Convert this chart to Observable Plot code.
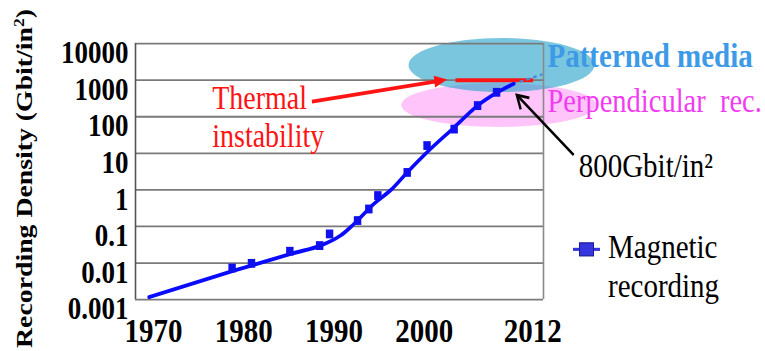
<!DOCTYPE html>
<html>
<head>
<meta charset="utf-8">
<script src="https://cdn.jsdelivr.net/npm/d3@7"></script>
<script src="https://cdn.jsdelivr.net/npm/@observablehq/plot@0.6"></script>
<style>
  body { margin: 0; background: #fff; }
  #chart { width: 765px; height: 351px; overflow: hidden; }
  /* the figure uses a taller-than-square aspect: drawn at 765×297, shown at 765×351 */
  #chart svg { overflow: visible; font-family: "Liberation Serif", serif; transform-origin: 0 0; }
  #chart text { font-family: "Liberation Serif", serif; }
  g[aria-label="x-axis tick label"], g[aria-label="y-axis tick label"] { font-weight: bold; }
</style>
</head>
<body>
<div id="chart"></div>
<script>
// Axis ticks
const yearTicks = [1970, 1980, 1990, 2000, 2012];
const densityTicks = [0.001, 0.01, 0.1, 1, 10, 100, 1000, 10000];
const densityTickLabels = ["0.001", "0.01", "0.1", "1", "10", "100", "1000", "10000"];

// Magnetic recording: reported areal densities (Gbit/in²)
const recordYears   = [1978.7, 1980.85, 1985.1, 1988.4, 1989.5, 1992.6, 1993.85, 1994.85, 1998.1, 2000.3, 2003.3, 2005.9, 2008.0];
const recordDensity = [0.0073, 0.0098, 0.021, 0.030, 0.0625, 0.145, 0.30, 0.70, 3.0, 16.3, 46, 202, 466];

// Trend curve through the record, ending at 800 Gbit/in²
const trendYears   = [1969.5, 1978.9, 1985.2, 1988.5, 1990.7, 1992.2, 1994.4, 1996.3, 1998.1, 2000.5, 2003.3, 2005.9, 2008.1, 2009.9];
const trendDensity = [0.00116, 0.0062, 0.0177, 0.030, 0.056, 0.117, 0.41, 1.0, 3.0, 11.9, 51, 202, 466, 800];

// Projected continuation beyond the last point
const projectionYears   = [2009.9, 2013.0];
const projectionDensity = [800, 1420];

// Thermal stability limit of conventional media
const limitYears = [2003.5, 2012.1];
const limitDensity = 1000;

// Technology regions (centre, half-width in years, half-height in decades)
const regionNames       = ["Perpendicular rec.", "Patterned media"];
const regionYears       = [2008.3, 2008.6];
const regionDensity     = [202, 2500];
const regionHalfYears   = [10.8, 10.3];
const regionHalfDecades = [0.60, 0.74];
const regionFills       = ["#ffc4fa", "#2aa3cc"];
const regionOpacity     = [1, 0.62];
const regionLabelDensity = [132, 2250];
const regionLabelColors = ["#f23cf0", "#3d9ae6"];
const regionLabelWeight = ["normal", "bold"];
const regionLabelSize   = [28.5, 29];

// Annotations
const thermalLabel = {text: "Thermal\ninstability", year: 1976.5, density: 900};
const thermalArrow = {fromYear: 1987.6, fromDensity: 248, toYear: 2002.6, toDensity: 1000};
const milestoneLabel = {text: "800Gbit/in²", year: 2017.1, density: 2.21};
const milestoneArrow = {fromYear: 2016.6, fromDensity: 8.66, toYear: 2010.3, toDensity: 378};

const record = recordYears.map((year, i) => ({year, density: recordDensity[i]}));
const trend = trendYears.map((year, i) => ({year, density: trendDensity[i]}));
const projection = projectionYears.map((year, i) => ({year, density: projectionDensity[i]}));
const regions = regionNames.map((name, i) => ({
  name, year: regionYears[i], density: regionDensity[i],
  halfYears: regionHalfYears[i], halfDecades: regionHalfDecades[i],
  fill: regionFills[i], opacity: regionOpacity[i],
  labelDensity: regionLabelDensity[i], color: regionLabelColors[i],
  weight: regionLabelWeight[i], size: regionLabelSize[i]
}));

const serif = "Liberation Serif, serif";
const width = 765, height = 297, shownHeight = 351;
const margin = {left: 135, right: 222, top: 36.4, bottom: 44};

// Ellipses drawn in data space through the plot's own scales
function regionEllipses(data) {
  return (index, scales) => {
    const {x, y} = scales;
    const g = d3.create("svg:g").attr("aria-label", "regions");
    for (const r of data) {
      const cx = x(r.year), cy = y(r.density);
      const rx = x(r.year + r.halfYears) - cx;
      const ry = y(r.density / Math.pow(10, r.halfDecades)) - cy;
      g.append("ellipse")
        .attr("cx", cx).attr("cy", cy).attr("rx", rx).attr("ry", ry)
        .attr("fill", r.fill).attr("fill-opacity", r.opacity);
    }
    return g.node();
  };
}

// Annotation arrow with a filled or open head
function annotationArrow(a, {stroke, strokeWidth, headLength, headWidth, filled}) {
  return (index, scales) => {
    const {x, y} = scales;
    const x1 = x(a.fromYear), y1 = y(a.fromDensity), x2 = x(a.toYear), y2 = y(a.toDensity);
    const t = Math.atan2(y2 - y1, x2 - x1);
    const ux = Math.cos(t), uy = Math.sin(t);
    const bx = x2 - ux * headLength, by = y2 - uy * headLength;
    const px = -uy * headWidth / 2, py = ux * headWidth / 2;
    const g = d3.create("svg:g").attr("aria-label", "arrow");
    g.append("line")
      .attr("x1", x1).attr("y1", y1)
      .attr("x2", filled ? bx + ux * 2 : x2).attr("y2", filled ? by + uy * 2 : y2)
      .attr("stroke", stroke).attr("stroke-width", strokeWidth);
    if (filled) {
      g.append("polygon")
        .attr("points", `${x2},${y2} ${bx + px},${by + py} ${bx - px},${by - py}`)
        .attr("fill", stroke);
    } else {
      g.append("path")
        .attr("d", `M${bx + px},${by + py}L${x2},${y2}L${bx - px},${by - py}`)
        .attr("fill", "none").attr("stroke", stroke).attr("stroke-width", strokeWidth)
        .attr("stroke-linejoin", "miter");
    }
    return g.node();
  };
}

const chart = Plot.plot({
  width, height,
  marginLeft: margin.left, marginRight: margin.right,
  marginTop: margin.top, marginBottom: margin.bottom,
  style: {fontFamily: serif, background: "white", color: "#000", overflow: "visible"},
  x: {domain: [1968, 2013.2]},
  y: {type: "log", domain: [0.001, 10000]},
  marks: [
    regionEllipses(regions),
    Plot.ruleY(densityTicks, {stroke: "#7a7a7a", strokeWidth: 1.5}),
    Plot.ruleX([1968], {stroke: "#555", strokeWidth: 1.6}),
    Plot.ruleX([2013.2], {stroke: "#8a8a8a", strokeWidth: 1.6}),
    Plot.axisX(yearTicks, {tickSize: 0, tickPadding: 15, fontSize: 29, fontWeight: "bold", fontFamily: serif,
      tickFormat: d => String(d), label: null}),
    Plot.axisY(densityTicks, {tickSize: 0, tickPadding: 7, dy: 8, fontSize: 27, fontWeight: "bold", fontFamily: serif,
      tickFormat: d => densityTickLabels[densityTicks.indexOf(d)], label: null}),
    // thermal limit
    Plot.ruleY([limitDensity], {x1: limitYears[0], x2: limitYears[1], stroke: "#ff1414", strokeWidth: 3.4}),
    annotationArrow(thermalArrow, {stroke: "#ff1414", strokeWidth: 3.2, headLength: 13, headWidth: 10, filled: true}),
    Plot.text([thermalLabel], {x: "year", y: "density", text: "text", textAnchor: "start", lineAnchor: "top",
      lineHeight: 1.16, fontSize: 28, fontFamily: serif, fill: "#ff1414"}),
    // magnetic recording trend and record
    Plot.line(projection, {x: "year", y: "density", stroke: "#3f8fd8", strokeWidth: 2, strokeDasharray: "2,5"}),
    Plot.line(trend, {x: "year", y: "density", curve: "catmull-rom", stroke: "#0a0aff", strokeWidth: 3.3}),
    Plot.dot(record, {x: "year", y: "density", symbol: "square", r: 4.2, fill: "#1010ee", stroke: null}),
    // milestone
    annotationArrow(milestoneArrow, {stroke: "#000", strokeWidth: 2.4, headLength: 11, headWidth: 13, filled: false}),
    Plot.text([milestoneLabel], {x: "year", y: "density", text: "text", textAnchor: "start", lineAnchor: "bottom",
      fontSize: 29, fontFamily: serif, fill: "#000"}),
    // region labels
    ...regions.map(r => Plot.text([r], {y: "labelDensity", frameAnchor: "right", dx: 4,
      text: d => d.name.replace(" rec.", "\u2002rec."), textAnchor: "start", lineAnchor: "bottom",
      fontSize: r.size, fontFamily: serif, fill: r.color, fontWeight: r.weight}))
  ]
});

chart.style.transform = `scale(1, ${shownHeight / height})`;
document.getElementById("chart").append(chart);

// Axis title and series legend
const svg = d3.select(chart);
svg.append("text")
  .attr("transform", `translate(32,151) rotate(-90)`)
  .attr("text-anchor", "middle")
  .attr("font-family", serif).attr("font-weight", "bold").attr("font-size", 23.5)
  .text("Recording Density (Gbit/in")
  .call(t => t.append("tspan").attr("baseline-shift", "super").attr("font-size", 15).text("2"))
  .call(t => t.append("tspan").text(")"));

const legend = svg.append("g").attr("transform", `translate(${width - margin.right + 30},211)`);
legend.append("line").attr("x1", 0).attr("x2", 27).attr("stroke", "#3535e0").attr("stroke-width", 2.6);
legend.append("rect").attr("x", 6.5).attr("y", -5.5).attr("width", 14).attr("height", 11)
  .attr("fill", "#3535dd").attr("stroke", "#1a1a9a").attr("stroke-width", 1);
legend.append("text").attr("x", 35).attr("y", 7.5).attr("text-anchor", "start")
  .attr("font-family", serif).attr("font-size", 29)
  .call(t => t.append("tspan").attr("x", 35).text("Magnetic"))
  .call(t => t.append("tspan").attr("x", 35).attr("dy", 32.5).text("recording"));
</script>
</body>
</html>
